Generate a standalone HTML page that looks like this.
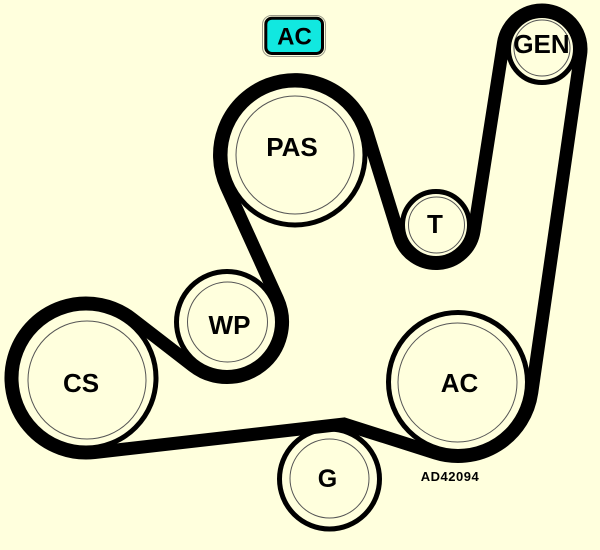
<!DOCTYPE html>
<html>
<head>
<meta charset="utf-8">
<style>
  html, body { margin: 0; padding: 0; background: #FFFFDD; }
  svg { display: block; }
  text { font-family: "Liberation Sans", Arial, sans-serif; font-weight: bold; fill: #000; }
</style>
</head>
<body>
<svg width="600" height="550" viewBox="0 0 600 550" xmlns="http://www.w3.org/2000/svg">
  <rect x="0" y="0" width="600" height="550" fill="#FFFFDD"/>

  <!-- Top AC label -->
  <rect x="262.5" y="15.5" width="63" height="41" rx="9" ry="9" fill="none" stroke="#9a9a8a" stroke-width="1"/>
  <rect x="265.8" y="18.2" width="56.7" height="35.3" rx="6" ry="6" fill="#11E8E0" stroke="#000" stroke-width="3"/>
  <text x="294.5" y="44.5" font-size="24" text-anchor="middle">AC</text>

  <!-- Pulleys: rings -->
  <g fill="#FFFFDD" stroke="#000" stroke-width="5">
    <circle cx="86" cy="378" r="70"/>
    <circle cx="227" cy="322" r="50.5"/>
    <circle cx="295" cy="155" r="70"/>
    <circle cx="436" cy="225" r="33.5"/>
    <circle cx="542" cy="49" r="33.5"/>
    <circle cx="458" cy="382" r="69.5"/>
    <circle cx="329.5" cy="479" r="50"/>
  </g>

  <!-- Pulleys: thin inner circles -->
  <g fill="none" stroke="#555" stroke-width="1">
    <circle cx="87" cy="380" r="59"/>
    <circle cx="227.5" cy="322" r="40"/>
    <circle cx="295" cy="155" r="59"/>
    <circle cx="436.5" cy="225" r="28"/>
    <circle cx="542" cy="48" r="28"/>
    <circle cx="457.5" cy="382.5" r="59.5"/>
    <circle cx="329.5" cy="478.5" r="39.5"/>
  </g>

  <!-- Belt -->
  <path d="M 131.84 318.64
           L 193.08 365.93
           A 55.5 55.5 0 0 0 277.53 299.04
           L 226.26 186.23
           A 75.5 75.5 0 1 1 367.13 132.67
           L 399.22 236.38
           A 38.5 38.5 0 0 0 474.04 230.96
           L 503.47 42.97
           A 39 39 0 0 1 580.6 54.58
           L 531.73 392.66
           A 74.5 74.5 0 0 1 435.48 453.01
           L 344 424
           L 94.52 452.51
           A 75 75 0 1 1 131.84 318.64 Z"
        fill="none" stroke="#000" stroke-width="13" stroke-linejoin="miter"/>

  <!-- Labels -->
  <text x="292" y="156" font-size="26" text-anchor="middle">PAS</text>
  <text x="435" y="233" font-size="26" text-anchor="middle">T</text>
  <text x="541.5" y="53" font-size="26" text-anchor="middle">GEN</text>
  <text x="229.5" y="334" font-size="26" text-anchor="middle">WP</text>
  <text x="81" y="392" font-size="26" text-anchor="middle">CS</text>
  <text x="459.5" y="392" font-size="26" text-anchor="middle">AC</text>
  <text x="327.5" y="487" font-size="25" text-anchor="middle">G</text>
  <text x="450" y="481" font-size="13" text-anchor="middle" letter-spacing="0.5">AD42094</text>
</svg>
</body>
</html>
